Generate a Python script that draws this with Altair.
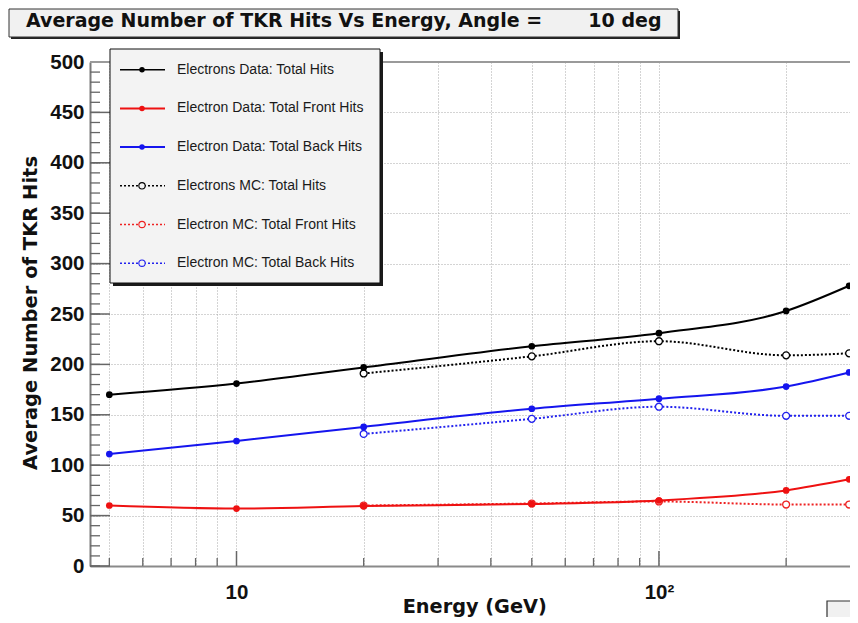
import altair as alt
import pandas as pd

# ---------------- data ----------------
TITLE_TEXT = "Average Number of TKR Hits Vs Energy, Angle =" + "\u00a0" * 7 + "10 deg"
X_TITLE = "Energy (GeV)"
Y_TITLE = "Average Number of TKR Hits"

energy_data = [5, 10, 20, 50, 100, 200, 282]
data_total = [170, 181, 197, 218, 231, 253, 278]
data_front = [60, 57, 59.5, 61.5, 65, 75, 86]
data_back = [111, 124, 138, 156, 166, 178, 192]

energy_mc = [20, 50, 100, 200, 282]
mc_total = [191, 208, 223, 209, 211]
mc_front = [60, 62, 64, 61, 61]
mc_back = [131, 146, 158, 149, 149]

series_names = [
    "Electrons Data: Total Hits",
    "Electron Data: Total Front Hits",
    "Electron Data: Total Back Hits",
    "Electrons MC: Total Hits",
    "Electron MC: Total Front Hits",
    "Electron MC: Total Back Hits",
]
series_colors = ["#000000", "#ee1111", "#1515ee", "#000000", "#ee2222", "#2222ee"]
series_is_mc = [False, False, False, True, True, True]

x_tick_values = [5, 6, 7, 8, 9, 10, 20, 30, 40, 50, 60, 70, 80, 90, 100, 200]
x_major_ticks = [10, 100]
x_minor_ticks = [5, 6, 7, 8, 9, 20, 30, 40, 50, 60, 70, 80, 90, 200]
y_tick_values = list(range(0, 501, 50))
y_minor_ticks = list(range(0, 501, 10))

# ---------------- tables ----------------
rows = []
for name, xs, ys in [
    (series_names[0], energy_data, data_total),
    (series_names[1], energy_data, data_front),
    (series_names[2], energy_data, data_back),
    (series_names[3], energy_mc, mc_total),
    (series_names[4], energy_mc, mc_front),
    (series_names[5], energy_mc, mc_back),
]:
    for e, h in zip(xs, ys):
        rows.append({"series": name, "energy": e, "hits": h})
df = pd.DataFrame(rows)
df_data = df[df["series"].isin(series_names[:3])]
df_mc = df[df["series"].isin(series_names[3:])]

W, H = 760, 504
BOLD = "DejaVu Sans"
HELV = "Liberation Sans"

xscale = alt.Scale(type="log", domain=[4.5, 283.3], nice=False)
yscale = alt.Scale(domain=[0, 500], nice=False)

xaxis = alt.Axis(
    values=x_tick_values, title=None, grid=True, gridColor="#a8a8a8", gridDash=[1, 2],
    gridWidth=1, ticks=False, tickSize=0, domain=True, domainColor="#8a8a8a", domainWidth=2,
    labelExpr="datum.value == 10 ? '10' : (datum.value == 100 ? '10²' : '')",
    labelFont=HELV, labelFontWeight="bold", labelFontSize=20.5, labelColor="#111111",
    labelBaseline="alphabetic", labelPadding=32, labelOverlap=False, labelFlush=False,
)
yaxis = alt.Axis(
    values=y_tick_values, title=None, grid=True, gridColor="#a8a8a8", gridDash=[1, 2],
    gridWidth=1, ticks=False, tickSize=0, domain=True, domainColor="#7a7a7a", domainWidth=2,
    labelFont=HELV, labelFontWeight="bold", labelFontSize=20.5, labelColor="#111111",
    labelPadding=6, labelBaseline="middle",
)

def X():
    return alt.X("energy:Q", scale=xscale, axis=xaxis)

def Y():
    return alt.Y("hits:Q", scale=yscale, axis=yaxis)

color_scale = alt.Scale(domain=series_names, range=series_colors)

one = pd.DataFrame({"a": [0]})

layers = []

# inward ticks
layers.append(alt.Chart(pd.DataFrame({"hits": y_minor_ticks})).mark_rule(color="#666666", strokeWidth=1.3)
              .encode(y=Y(), x=alt.value(0), x2=alt.value(10)))
layers.append(alt.Chart(pd.DataFrame({"hits": y_tick_values})).mark_rule(color="#666666", strokeWidth=1.5)
              .encode(y=Y(), x=alt.value(0), x2=alt.value(20)))
layers.append(alt.Chart(pd.DataFrame({"energy": x_minor_ticks})).mark_rule(color="#666666", strokeWidth=1.3)
              .encode(x=X(), y=alt.value(H), y2=alt.value(H - 8)))
layers.append(alt.Chart(pd.DataFrame({"energy": x_major_ticks})).mark_rule(color="#666666", strokeWidth=1.5)
              .encode(x=X(), y=alt.value(H), y2=alt.value(H - 15)))
# top frame line
layers.append(alt.Chart(one).mark_rule(color="#9a9a9a", strokeWidth=2)
              .encode(x=alt.value(0), x2=alt.value(W), y=alt.value(0)))

# MC series (dotted, open markers) and data series (solid, filled markers)
layers.append(alt.Chart(df_mc).mark_line(strokeWidth=2, strokeDash=[2, 2], interpolate="monotone")
              .encode(x=X(), y=Y(), color=alt.Color("series:N", scale=color_scale, legend=None)))
layers.append(alt.Chart(df_mc).mark_point(filled=False, size=48, strokeWidth=1.3, fill="white", fillOpacity=1, opacity=1)
              .encode(x=X(), y=Y(), color=alt.Color("series:N", scale=color_scale, legend=None)))
layers.append(alt.Chart(df_data).mark_line(strokeWidth=2, interpolate="monotone")
              .encode(x=X(), y=Y(), color=alt.Color("series:N", scale=color_scale, legend=None)))
layers.append(alt.Chart(df_data).mark_point(filled=True, size=45, opacity=1)
              .encode(x=X(), y=Y(), color=alt.Color("series:N", scale=color_scale, legend=None)))

# legend box
layers.append(alt.Chart(one).mark_rect(color="#1a1a1a")
              .encode(x=alt.value(23), x2=alt.value(293), y=alt.value(-10), y2=alt.value(224)))
layers.append(alt.Chart(one).mark_rect(fill="#f3f3f3", stroke="#111111", strokeWidth=1)
              .encode(x=alt.value(20), x2=alt.value(290), y=alt.value(-13), y2=alt.value(221)))
for i, (name, col, mc) in enumerate(zip(series_names, series_colors, series_is_mc)):
    yy = 7.7 + i * 38.7
    if mc:
        layers.append(alt.Chart(one).mark_rule(color=col, strokeWidth=1.6, strokeDash=[2, 2])
                      .encode(x=alt.value(30), x2=alt.value(75), y=alt.value(yy)))
        layers.append(alt.Chart(one).mark_point(filled=False, size=40, strokeWidth=1.1, color=col, fill="#f3f3f3", fillOpacity=1, opacity=1)
                      .encode(x=alt.value(52), y=alt.value(yy)))
    else:
        layers.append(alt.Chart(one).mark_rule(color=col, strokeWidth=2 if i else 1.5)
                      .encode(x=alt.value(30), x2=alt.value(75), y=alt.value(yy)))
        layers.append(alt.Chart(one).mark_point(filled=True, size=30, color=col, opacity=1)
                      .encode(x=alt.value(52), y=alt.value(yy)))
    layers.append(alt.Chart(one).mark_text(align="left", baseline="middle", font=HELV, fontSize=14, color="#1a1a1a", text=name)
                  .encode(x=alt.value(87), y=alt.value(yy)))

# title box
layers.append(alt.Chart(one).mark_rect(color="#222222")
              .encode(x=alt.value(-79), x2=alt.value(590), y=alt.value(-51), y2=alt.value(-23)))
layers.append(alt.Chart(one).mark_rect(fill="#f1f1f1", stroke="#333333", strokeWidth=1)
              .encode(x=alt.value(-81), x2=alt.value(588), y=alt.value(-53), y2=alt.value(-25)))
layers.append(alt.Chart(one).mark_text(align="left", baseline="alphabetic", font=BOLD, fontWeight="bold", fontSize=19, color="#111111", text=TITLE_TEXT)
              .encode(x=alt.value(-64), y=alt.value(-34.7)))

# axis titles
layers.append(alt.Chart(one).mark_text(align="center", baseline="alphabetic", font=BOLD, fontWeight="bold", fontSize=19.5, color="#111111", angle=270, text=Y_TITLE)
              .encode(x=alt.value(-53), y=alt.value(251)))
layers.append(alt.Chart(one).mark_text(align="center", baseline="alphabetic", font=BOLD, fontWeight="bold", fontSize=19.3, color="#111111", text=X_TITLE)
              .encode(x=alt.value(384.7), y=alt.value(551.3)))

# partial stats box at bottom right
layers.append(alt.Chart(one).mark_rect(fill="#f1f1f1", stroke="#333333", strokeWidth=1.2)
              .encode(x=alt.value(737), x2=alt.value(790), y=alt.value(539), y2=alt.value(600)))

chart = (
    alt.layer(*layers)
    .properties(
        width=W, height=H,
        padding={"left": 82, "top": 54, "right": 0, "bottom": 51},
        autosize=alt.AutoSizeParams(type="none"),
        background="white",
    )
    .configure_view(strokeWidth=0)
)

chart.save("out.html", embed_options={"renderer": "svg", "actions": False})
